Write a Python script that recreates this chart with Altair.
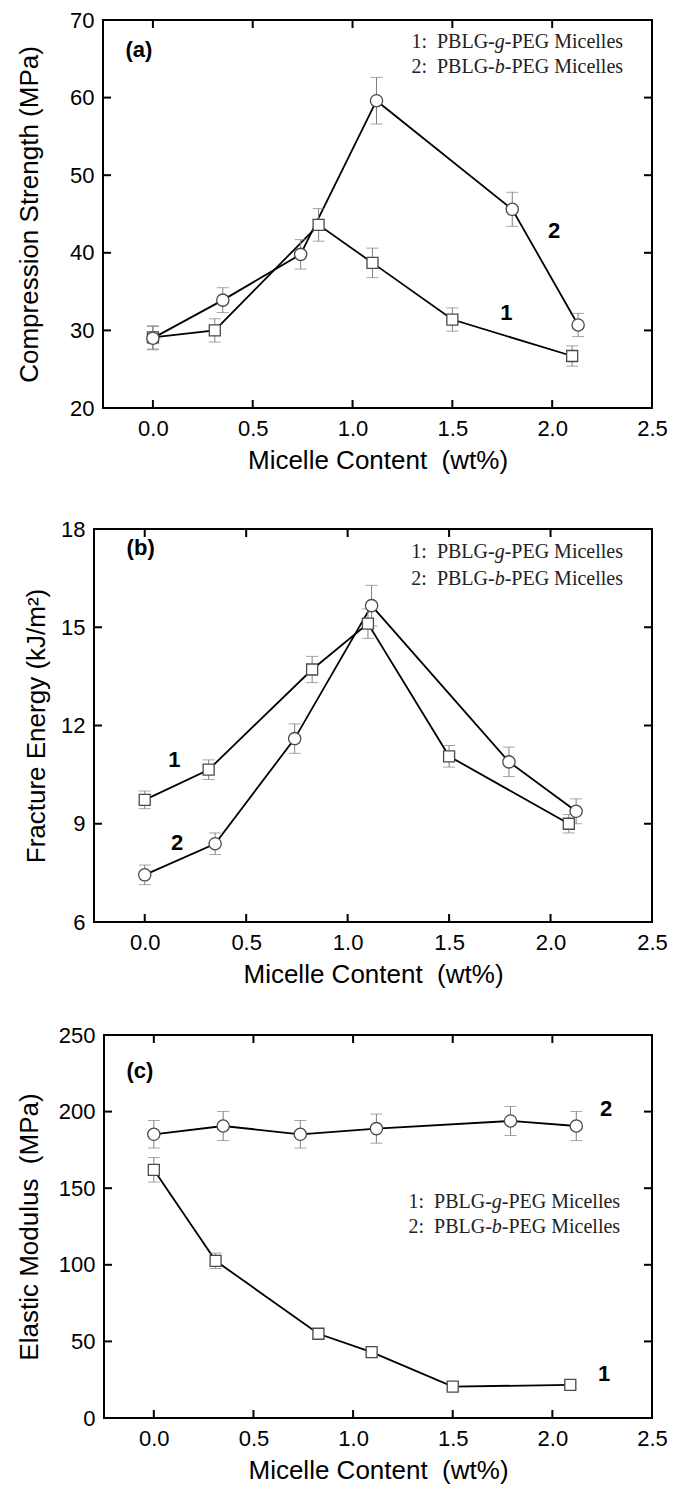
import altair as alt
import pandas as pd

# ---------------- data ----------------
X_TICKS = [0.0, 0.5, 1.0, 1.5, 2.0, 2.5]
X_DOMAIN = [-0.25, 2.5]
X_TITLE = "Micelle Content\u00a0 (wt%)"
SERIES = ["1", "2"]
LEG_PREFIX = ["1:\u00a0 PBLG-", "2:\u00a0 PBLG-"]
LEG_ITALIC = ["g", "b"]
LEG_SUFFIX = ["-PEG Micelles", "-PEG Micelles"]

# (a) Compression strength
A_X1 = [0.0, 0.31, 0.83, 1.10, 1.50, 2.10]
A_Y1 = [29.1, 30.0, 43.6, 38.7, 31.4, 26.7]
A_E1 = [1.5, 1.5, 2.1, 1.9, 1.5, 1.3]
A_X2 = [0.0, 0.35, 0.74, 1.12, 1.80, 2.13]
A_Y2 = [29.0, 33.9, 39.8, 59.6, 45.6, 30.7]
A_E2 = [1.5, 1.6, 1.9, 3.0, 2.2, 1.5]
A_YTICKS = [20, 30, 40, 50, 60, 70]
A_YTITLE = "Compression Strength (MPa)"

# (b) Fracture energy
B_X1 = [0.0, 0.315, 0.825, 1.10, 1.50, 2.09]
B_Y1 = [9.73, 10.65, 13.71, 15.11, 11.06, 9.0]
B_E1 = [0.27, 0.30, 0.40, 0.45, 0.33, 0.28]
B_X2 = [0.0, 0.347, 0.739, 1.118, 1.795, 2.126]
B_Y2 = [7.44, 8.39, 11.6, 15.66, 10.89, 9.38]
B_E2 = [0.30, 0.33, 0.45, 0.62, 0.45, 0.38]
B_YTICKS = [6, 9, 12, 15, 18]
B_YTITLE = "Fracture Energy (kJ/m\u00b2)"

# (c) Elastic modulus
C_X1 = [0.0, 0.31, 0.826, 1.093, 1.50, 2.09]
C_Y1 = [162.0, 102.6, 55.0, 43.0, 20.5, 21.6]
C_E1 = [8.0, 5.0, 2.5, 2.5, 2.0, 2.0]
C_X2 = [0.0, 0.348, 0.735, 1.117, 1.79, 2.12]
C_Y2 = [185.2, 190.6, 185.2, 188.9, 193.9, 190.6]
C_E2 = [9.0, 9.5, 9.0, 9.5, 9.5, 9.5]
C_YTICKS = [0, 50, 100, 150, 200, 250]
C_YTITLE = "Elastic Modulus\u00a0 (MPa)"

# annotation anchors in data units: tag, curve labels "1"/"2", legend right edge + two lines
A_ANN = dict(tag=("(a)", -0.07, 66.1), lab1=(1.77, 32.2), lab2=(2.01, 42.8), leg=(2.355, 67.2, 63.9))
B_ANN = dict(tag=("(b)", -0.02, 17.42), lab1=(0.146, 10.94), lab2=(0.16, 8.41), leg=(2.357, 17.29, 16.47))
C_ANN = dict(tag=("(c)", -0.07, 226.4), lab1=(2.26, 28.8), lab2=(2.27, 201.5), leg=(2.34, 141.3, 124.9))

# ---------------- styling ----------------
SANS = "Liberation Sans"
SERIF = "Liberation Serif"
GW = 558              # common group width; the frame may start a little to the right
TICK_LEN = 8
LEG_FS = 20
W_SUFFIX_EM = 5.916   # Times metrics of "-PEG Micelles"
W_ITALIC_EM = 0.5     # Times italic "g"/"b"


def panel(x1, y1, e1, x2, y2, e2, yticks, ytitle, ann, x0, H, ytitle_pad):
    rows = []
    for s, xs_, ys_, es_ in ((SERIES[0], x1, y1, e1), (SERIES[1], x2, y2, e2)):
        for x, y, e in zip(xs_, ys_, es_):
            rows.append(dict(series=s, x=x, y=y, lo=y - e, hi=y + e))
    df = pd.DataFrame(rows)

    xs = alt.Scale(domain=X_DOMAIN, range=[x0, GW], nice=False, zero=False)
    ys = alt.Scale(domain=[yticks[0], yticks[-1]], nice=False, zero=False)
    xax = alt.Axis(values=X_TICKS, format=".1f", title=X_TITLE, ticks=False, domain=False, grid=False,
                   labelFlush=False, labelOverlap=False, labelPadding=10, titlePadding=8,
                   titleX=(x0 + GW) / 2)
    yax = alt.Axis(values=yticks, format="d", title=ytitle, ticks=False, domain=False, grid=False,
                   labelFlush=False, labelOverlap=False, labelPadding=9, minExtent=44, maxExtent=44,
                   titlePadding=ytitle_pad, offset=-x0)

    def X(f):
        return alt.X(f, scale=xs, axis=xax)

    def Y(f):
        return alt.Y(f, scale=ys, axis=yax)

    base = alt.Chart(df)
    line = base.mark_line(color="black", strokeWidth=1.8).encode(
        x=X("x:Q"), y=Y("y:Q"), detail="series:N", order="x:Q")
    err = base.mark_rule(color="#808080", strokeWidth=1).encode(
        x=X("x:Q"), y=Y("lo:Q"), y2="hi:Q")
    cap_lo = base.mark_tick(orient="horizontal", size=12, thickness=1, color="#808080").encode(
        x=X("x:Q"), y=Y("lo:Q"))
    cap_hi = base.mark_tick(orient="horizontal", size=12, thickness=1, color="#808080").encode(
        x=X("x:Q"), y=Y("hi:Q"))
    pts = base.mark_point(filled=True, fill="white", stroke="#4a4a4a", strokeWidth=1.3, opacity=1).encode(
        x=X("x:Q"), y=Y("y:Q"),
        shape=alt.Shape("series:N", scale=alt.Scale(domain=SERIES, range=["square", "circle"]), legend=None),
        size=alt.Size("series:N", scale=alt.Scale(domain=SERIES, range=[121, 150]), legend=None))

    # curve labels and panel tag
    lab_df = pd.DataFrame({"x": [ann["lab1"][0], ann["lab2"][0], ann["tag"][1]],
                           "y": [ann["lab1"][1], ann["lab2"][1], ann["tag"][2]],
                           "t": [SERIES[0], SERIES[1], ann["tag"][0]]})
    labs = alt.Chart(lab_df).mark_text(font=SANS, fontSize=22, fontWeight="bold", color="black",
                                       align="center", baseline="middle").encode(
        x=X("x:Q"), y=Y("y:Q"), text="t:N")

    # legend text (serif, italic g / b)
    lx, ly1, ly2 = ann["leg"]
    leg_df = pd.DataFrame({"x": [lx, lx], "y": [ly1, ly2], "pre": LEG_PREFIX,
                           "it": LEG_ITALIC, "suf": LEG_SUFFIX})
    lbase = alt.Chart(leg_df)
    leg_suf = lbase.mark_text(font=SERIF, fontSize=LEG_FS, align="right", baseline="middle",
                              color="#222").encode(x=X("x:Q"), y=Y("y:Q"), text="suf:N")
    leg_it = lbase.mark_text(font=SERIF, fontSize=LEG_FS, fontStyle="italic", align="right",
                             baseline="middle", color="#222", dx=-W_SUFFIX_EM * LEG_FS).encode(
        x=X("x:Q"), y=Y("y:Q"), text="it:N")
    leg_pre = lbase.mark_text(font=SERIF, fontSize=LEG_FS, align="right", baseline="middle",
                              color="#222", dx=-(W_SUFFIX_EM + W_ITALIC_EM) * LEG_FS).encode(
        x=X("x:Q"), y=Y("y:Q"), text="pre:N")

    # frame (box) and inward ticks on all four sides
    one = alt.Chart(pd.DataFrame({"k": [0]}))
    frame = [
        one.mark_rule(color="black", strokeWidth=2, strokeCap="square").encode(
            x=alt.value(x0), y=alt.value(0), y2=alt.value(H)),
        one.mark_rule(color="black", strokeWidth=2, strokeCap="square").encode(
            x=alt.value(GW), y=alt.value(0), y2=alt.value(H)),
        one.mark_rule(color="black", strokeWidth=2, strokeCap="square").encode(
            x=alt.value(x0), x2=alt.value(GW), y=alt.value(0)),
        one.mark_rule(color="black", strokeWidth=2, strokeCap="square").encode(
            x=alt.value(x0), x2=alt.value(GW), y=alt.value(H)),
    ]
    ydf = alt.Chart(pd.DataFrame({"y": yticks}))
    xdf = alt.Chart(pd.DataFrame({"x": X_TICKS}))
    tl = ydf.mark_rule(color="black", strokeWidth=2).encode(
        y=Y("y:Q"), x=alt.value(x0), x2=alt.value(x0 + TICK_LEN))
    tr = ydf.mark_rule(color="black", strokeWidth=2).encode(
        y=Y("y:Q"), x=alt.value(GW - TICK_LEN), x2=alt.value(GW))
    tt = xdf.mark_rule(color="black", strokeWidth=2).encode(
        x=X("x:Q"), y=alt.value(0), y2=alt.value(TICK_LEN))
    tb = xdf.mark_rule(color="black", strokeWidth=2).encode(
        x=X("x:Q"), y=alt.value(H - TICK_LEN), y2=alt.value(H))

    return alt.layer(line, err, cap_lo, cap_hi, pts, labs, leg_suf, leg_it, leg_pre,
                     tl, tr, tt, tb, *frame).properties(width=GW, height=H)


pa = panel(A_X1, A_Y1, A_E1, A_X2, A_Y2, A_E2, A_YTICKS, A_YTITLE, A_ANN, 9, 388, 17)
pb = panel(B_X1, B_Y1, B_E1, B_X2, B_Y2, B_E2, B_YTICKS, B_YTITLE, B_ANN, 0, 393, 1)
pc = panel(C_X1, C_Y1, C_E1, C_X2, C_Y2, C_E2, C_YTICKS, C_YTITLE, C_ANN, 10, 383, 18)

chart = alt.vconcat(alt.vconcat(pa, pb, spacing=43), pc, spacing=35).properties(
    padding={"left": 7, "top": 0, "right": 0, "bottom": 0}, background="white"
).configure_view(stroke="transparent").configure_axis(
    labelFont=SANS, labelFontSize=22, labelColor="black",
    titleFont=SANS, titleFontSize=26, titleFontWeight="normal", titleColor="black"
)

chart.save("out.html", embed_options={"renderer": "svg", "actions": False})
